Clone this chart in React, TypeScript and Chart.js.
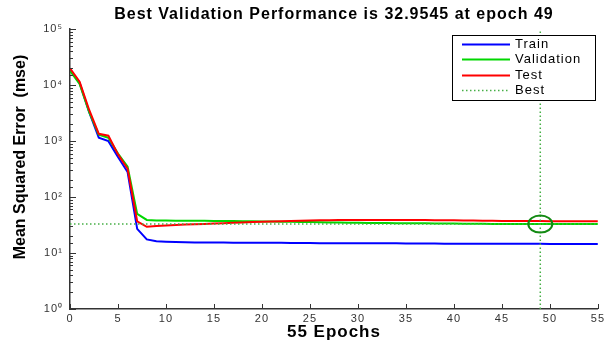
import { useEffect, useRef } from 'react';
import { Chart, registerables } from 'chart.js';

Chart.register(...registerables);

// ---------- data ----------
const epochs = [
  0, 1, 2, 3, 4, 5, 6, 7, 8, 9, 10, 11, 12, 13, 14, 15, 16, 17, 18, 19,
  20, 21, 22, 23, 24, 25, 26, 27, 28, 29, 30, 31, 32, 33, 34, 35, 36, 37, 38, 39,
  40, 41, 42, 43, 44, 45, 46, 47, 48, 49, 50, 51, 52, 53, 54, 55,
];

const trainMse = [
  18500, 11000, 3300, 1150, 1000, 520, 280, 27, 17.5, 16.2,
  15.9, 15.7, 15.6, 15.5, 15.5, 15.4, 15.4, 15.3, 15.3, 15.3,
  15.2, 15.2, 15.2, 15.1, 15.1, 15.1, 15.0, 15.0, 15.0, 15.0,
  14.9, 14.9, 14.9, 14.9, 14.9, 14.8, 14.8, 14.8, 14.8, 14.7,
  14.7, 14.7, 14.7, 14.7, 14.6, 14.6, 14.6, 14.6, 14.6, 14.6,
  14.5, 14.5, 14.5, 14.5, 14.5, 14.5,
];

const validationMse = [
  18000, 10500, 3300, 1300, 1150, 600, 350, 50, 39, 38.3,
  38.0, 37.9, 37.8, 37.7, 37.6, 37.5, 37.4, 37.3, 37.1, 36.9,
  36.7, 36.5, 36.3, 36.1, 35.9, 35.7, 35.5, 35.3, 35.1, 34.9,
  34.7, 34.5, 34.4, 34.3, 34.2, 34.1, 34.0, 33.9, 33.8, 33.7,
  33.6, 33.5, 33.4, 33.3, 33.2, 33.15, 33.1, 33.05, 33.0, 32.9545,
  32.97, 32.99, 33.0, 33.02, 33.04, 33.05,
];

const testMse = [
  20000, 11500, 3600, 1350, 1250, 580, 320, 37, 29.5, 30.3,
  31.0, 31.6, 32.2, 32.7, 33.2, 33.7, 34.2, 34.7, 35.2, 35.7,
  36.2, 36.7, 37.1, 37.5, 37.9, 38.2, 38.5, 38.7, 38.9, 39.0,
  39.1, 39.1, 39.1, 39.1, 39.1, 39.0, 39.0, 39.0, 38.6, 38.5,
  38.4, 38.3, 38.0, 37.8, 37.6, 37.5, 37.4, 37.3, 37.2, 37.2,
  37.1, 37.1, 37.0, 37.0, 37.0, 36.9,
];

const bestEpoch = 49;
const bestPerf = 32.9545;
const xMin = 0;
const xMax = 55;
const xTickStep = 5;
const yMin = 1;
const yMax = 100000;

const seriesLabels = ['Train', 'Validation', 'Test', 'Best'];
const titleText = `Best Validation Performance is ${bestPerf} at epoch ${bestEpoch}`;
const xTitleText = '55 Epochs';
const yTitleText = 'Mean Squared Error  (mse)';

// ---------- helpers ----------
const SUP: Record<string, string> = {
  '0': '\u2070', '1': '\u00B9', '2': '\u00B2', '3': '\u00B3', '4': '\u2074',
  '5': '\u2075', '6': '\u2076', '7': '\u2077', '8': '\u2078', '9': '\u2079', '-': '\u207B',
};
const isDecade = (v: number) => Math.abs(Math.log10(v) - Math.round(Math.log10(v))) < 1e-9;
const decadeLabel = (v: number) =>
  '10' + String(Math.round(Math.log10(v))).split('').map((c) => SUP[c] || c).join('');

const FONT = '"Liberation Sans", Arial, sans-serif';

// ---------- plugins ----------
const spacingPlugin = {
  id: 'spacing',
  beforeUpdate(chart: any) { chart.ctx.letterSpacing = '1px'; },
  beforeDraw(chart: any) { chart.ctx.letterSpacing = '1px'; },
};

const inwardTicks = {
  id: 'inwardTicks',
  afterDatasetsDraw(chart: any) {
    const { ctx, chartArea, scales } = chart;
    const x = scales.x;
    const y = scales.y;
    ctx.save();
    ctx.strokeStyle = '#333';
    ctx.lineWidth = 1;
    ctx.beginPath();
    y.ticks.forEach((t: any) => {
      const py = Math.round(y.getPixelForValue(t.value)) + 0.5;
      const len = isDecade(t.value) ? 6 : 3;
      ctx.moveTo(chartArea.left, py);
      ctx.lineTo(chartArea.left + len, py);
    });
    x.ticks.forEach((t: any) => {
      const px = Math.round(x.getPixelForValue(t.value)) + 0.5;
      ctx.moveTo(px, chartArea.bottom);
      ctx.lineTo(px, chartArea.bottom - 5);
    });
    ctx.stroke();
    ctx.restore();
  },
};

const bestCircle = {
  id: 'bestCircle',
  afterDatasetsDraw(chart: any) {
    const { ctx, scales } = chart;
    const cx = scales.x.getPixelForValue(bestEpoch);
    const cy = scales.y.getPixelForValue(bestPerf);
    ctx.save();
    ctx.strokeStyle = '#138a13';
    ctx.lineWidth = 2;
    ctx.beginPath();
    ctx.ellipse(cx, cy, 12, 8.5, 0, 0, Math.PI * 2);
    ctx.stroke();
    ctx.restore();
  },
};

const legendBox = {
  id: 'legendBox',
  afterDraw(chart: any) {
    const { ctx, chartArea } = chart;
    const w = 143;
    const h = 65;
    const left = Math.round(chartArea.right - w - 3);
    const top = Math.round(chartArea.top + 6);
    ctx.save();
    ctx.fillStyle = '#fff';
    ctx.fillRect(left, top, w, h);
    ctx.strokeStyle = '#000';
    ctx.lineWidth = 1;
    ctx.strokeRect(left + 0.5, top + 0.5, w, h);
    chart.data.datasets.forEach((ds: any, i: number) => {
      const yy = Math.round(top + 9 + i * 15.3) + 0.5;
      ctx.strokeStyle = ds.borderColor;
      ctx.lineWidth = ds.borderWidth;
      ctx.setLineDash(ds.borderDash || []);
      ctx.beginPath();
      ctx.moveTo(left + 10, yy);
      ctx.lineTo(left + 58, yy);
      ctx.stroke();
      ctx.setLineDash([]);
      ctx.fillStyle = '#000';
      ctx.font = `13px ${FONT}`;
      ctx.textBaseline = 'middle';
      ctx.textAlign = 'left';
      ctx.letterSpacing = '1px';
      ctx.fillText(ds.label, left + 63, yy);
    });
    ctx.restore();
  },
};

const yTitlePlugin = {
  id: 'yTitle',
  afterDraw(chart: any) {
    const { ctx } = chart;
    ctx.save();
    ctx.letterSpacing = '0px';
    ctx.translate(21, 157);
    ctx.rotate(-Math.PI / 2);
    ctx.font = `bold 16px ${FONT}`;
    ctx.fillStyle = '#000';
    ctx.textAlign = 'center';
    ctx.textBaseline = 'middle';
    ctx.fillText(yTitleText, 0, 0);
    ctx.restore();
  },
};

const toPoints = (vals: number[]) => epochs.map((e, i) => ({ x: e, y: vals[i] }));

export default function App() {
  const canvasRef = useRef<HTMLCanvasElement | null>(null);

  useEffect(() => {
    document.body.style.margin = '0';
    const canvas = canvasRef.current;
    if (!canvas) return;
    const chart = new Chart(canvas, {
      type: 'line',
      data: {
        datasets: [
          {
            label: seriesLabels[0],
            data: toPoints(trainMse),
            borderColor: 'rgb(0,0,255)',
            borderWidth: 2,
            pointRadius: 0,
            tension: 0,
            order: 3,
          },
          {
            label: seriesLabels[1],
            data: toPoints(validationMse),
            borderColor: 'rgb(0,215,0)',
            borderWidth: 2,
            pointRadius: 0,
            tension: 0,
            order: 2,
          },
          {
            label: seriesLabels[2],
            data: toPoints(testMse),
            borderColor: 'rgb(255,0,0)',
            borderWidth: 2,
            pointRadius: 0,
            tension: 0,
            order: 1,
          },
          {
            label: seriesLabels[3],
            data: [
              { x: bestEpoch, y: yMin },
              { x: bestEpoch, y: yMax },
              { x: bestEpoch, y: null },
              { x: xMin, y: bestPerf },
              { x: xMax, y: bestPerf },
            ],
            borderColor: 'rgb(70,175,70)',
            borderWidth: 1.5,
            borderDash: [1.5, 2.5],
            pointRadius: 0,
            spanGaps: false,
            order: 0,
          },
        ] as any,
      },
      options: {
        responsive: false,
        animation: false,
        devicePixelRatio: 1,
        layout: { padding: 0 },
        plugins: {
          legend: { display: false },
          tooltip: { enabled: false },
          title: {
            display: true,
            text: titleText,
            fullSize: false,
            color: '#000',
            font: { family: FONT, size: 16, weight: 'bold' },
            padding: { top: 5, bottom: 5 },
          },
        },
        scales: {
          x: {
            type: 'linear',
            min: xMin,
            max: xMax,
            grid: { display: false, drawTicks: false },
            border: { display: true, color: '#333', width: 1.5 },
            ticks: {
              stepSize: xTickStep,
              color: '#333',
              font: { family: FONT, size: 11 },
              padding: 3,
              maxRotation: 0,
            },
            title: {
              display: true,
              text: xTitleText,
              color: '#000',
              font: { family: FONT, size: 17, weight: 'bold' },
              padding: { top: 0, bottom: 1 },
            },
            afterFit: (scale: any) => { scale.height = 35; },
          },
          y: {
            type: 'logarithmic',
            min: yMin,
            max: yMax,
            grid: { display: false, drawTicks: false },
            border: { display: true, color: '#333', width: 1.5 },
            ticks: {
              autoSkip: false,
              color: '#333',
              font: { family: FONT, size: 11 },
              padding: 7,
              callback: (value: any) => (isDecade(Number(value)) ? decadeLabel(Number(value)) : ''),
            },
            afterFit: (scale: any) => { scale.width = 70; },
          },
        },
      } as any,
      plugins: [spacingPlugin, inwardTicks, bestCircle, legendBox, yTitlePlugin],
    });
    return () => chart.destroy();
  }, []);

  return (
    <div style={{ position: 'absolute', left: 0, top: 0, width: 608, height: 344, background: '#fff' }}>
      <canvas ref={canvasRef} width={608} height={344} style={{ display: 'block', width: 608, height: 344 }} />
    </div>
  );
}
